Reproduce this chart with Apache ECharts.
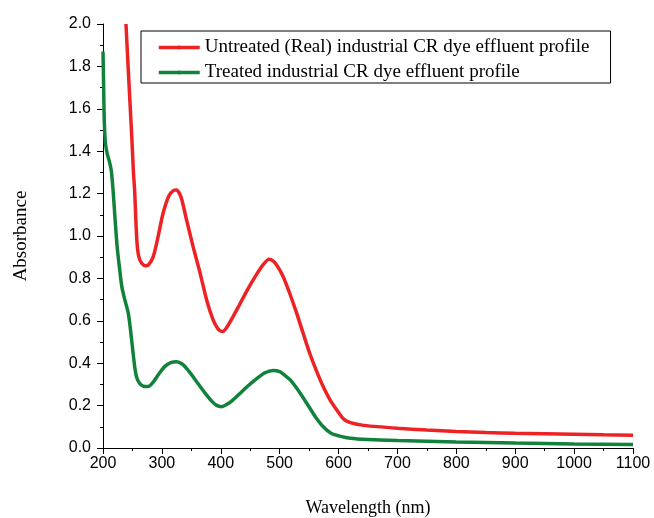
<!DOCTYPE html>
<html>
<head>
<meta charset="utf-8">
<script src="https://cdn.jsdelivr.net/npm/echarts@6/dist/echarts.min.js"></script>
<style>html,body{margin:0;padding:0;background:#fff;}#c{width:654px;height:518px;}</style>
</head>
<body>
<div id="c"></div>
<script>
// Tick labels
var xTicks = [200, 300, 400, 500, 600, 700, 800, 900, 1000, 1100];
var yTicks = [0.0, 0.2, 0.4, 0.6, 0.8, 1.0, 1.2, 1.4, 1.6, 1.8, 2.0];

var seriesNames = [
  'Untreated (Real) industrial CR dye effluent profile',
  'Treated industrial CR dye effluent profile'
];

// Untreated: wavelength (nm), absorbance
var untreatedWl = [239,243,246,249,251.5,254,256,258,261,266,272,277,285,293,302,312,320,325,330,334,342,353,365,376,387,395,402,408,420,432,445,461,472,482,490,498,506,517,529,540,551,563,574,586,597,606,612,620,640,660,700,750,800,850,900,950,1000,1050,1100];
var untreatedAbs = [2.0,1.78,1.62,1.46,1.31,1.20,1.06,0.96,0.90,0.87,0.86,0.863,0.90,0.99,1.107,1.19,1.215,1.217,1.20,1.17,1.075,0.95,0.824,0.698,0.604,0.563,0.549,0.56,0.615,0.677,0.745,0.82,0.865,0.89,0.88,0.85,0.808,0.73,0.635,0.54,0.447,0.36,0.289,0.225,0.179,0.145,0.13,0.12,0.108,0.102,0.093,0.085,0.078,0.073,0.069,0.067,0.065,0.062,0.060];

// Treated: wavelength (nm), absorbance
var treatedWl = [200,201,202,204,207,211,214,217,220,224,228,232,237,243,247,251,254,257,262,268,277,285,295,305,315,325,335,345,355,365,375,385,393,401,410,420,433,445,460,475,489,500,510,518,532,546,560,574,588,602,620,650,700,800,900,1000,1100];
var treatedAbs = [1.87,1.72,1.56,1.44,1.39,1.35,1.31,1.22,1.10,0.95,0.85,0.76,0.70,0.635,0.55,0.45,0.38,0.335,0.305,0.292,0.29,0.31,0.35,0.385,0.403,0.407,0.395,0.365,0.328,0.290,0.253,0.220,0.201,0.195,0.205,0.225,0.258,0.29,0.325,0.355,0.366,0.36,0.34,0.321,0.27,0.211,0.15,0.10,0.068,0.056,0.046,0.04,0.035,0.028,0.023,0.019,0.016];

function pairs(xs, ys) { return xs.map(function (x, i) { return [x, ys[i]]; }); }

var chart = echarts.init(document.getElementById('c'), null, { renderer: 'canvas' });
var sans = 'Liberation Sans, Arial, sans-serif';
var serif = 'Liberation Serif, Times New Roman, serif';
chart.setOption({
  backgroundColor: '#fff',
  animation: false,
  grid: { left: 103, top: 24, width: 530, height: 424, containLabel: false, outerBoundsMode: 'none' },
  legend: {
    orient: 'vertical',
    left: 141, top: 31,
    padding: [7, 21, 1, 16],
    itemGap: 6,
    itemWidth: 41, itemHeight: 5,
    borderColor: '#000', borderWidth: 1,
    lineStyle: { width: 3.5 },
    textStyle: { fontFamily: serif, fontSize: 19, color: '#000' },
    data: seriesNames
  },
  xAxis: {
    type: 'value',
    min: xTicks[0], max: xTicks[xTicks.length - 1], interval: 100,
    name: 'Wavelength (nm)', nameLocation: 'middle', nameGap: 51,
    nameTextStyle: { fontFamily: serif, fontSize: 18, color: '#000' },
    axisLine: { show: true, onZero: false, lineStyle: { color: '#000', width: 1 } },
    axisTick: { show: true, inside: false, length: 6, lineStyle: { color: '#000' } },
    minorTick: { show: true, splitNumber: 2, length: 3, lineStyle: { color: '#000' } },
    splitLine: { show: false },
    axisLabel: { fontFamily: sans, fontSize: 16, color: '#000', margin: 8, showMinLabel: true, showMaxLabel: true,
      formatter: function (v) { return String(v); } }
  },
  yAxis: {
    type: 'value',
    min: yTicks[0], max: yTicks[yTicks.length - 1], interval: 0.2,
    name: 'Absorbance', nameLocation: 'middle', nameGap: 72, nameRotate: 90,
    nameTextStyle: { fontFamily: serif, fontSize: 19, color: '#000' },
    axisLine: { show: true, onZero: false, lineStyle: { color: '#000', width: 1 } },
    axisTick: { show: true, inside: false, length: 6, lineStyle: { color: '#000' } },
    minorTick: { show: true, splitNumber: 2, length: 3, lineStyle: { color: '#000' } },
    splitLine: { show: false },
    axisLabel: { fontFamily: sans, fontSize: 16, color: '#000', margin: 12,
      formatter: function (v) { return v.toFixed(1); } }
  },
  series: [
    {
      name: seriesNames[0], type: 'line', data: pairs(untreatedWl, untreatedAbs),
      smooth: 0.25, showSymbol: false, symbol: 'circle', symbolSize: 3, clip: true,
      lineStyle: { color: '#ED2224', width: 3.5 }, itemStyle: { color: '#ED2224' }
    },
    {
      name: seriesNames[1], type: 'line', data: pairs(treatedWl, treatedAbs),
      smooth: 0.25, showSymbol: false, symbol: 'circle', symbolSize: 3, clip: true,
      lineStyle: { color: '#11823B', width: 3.5 }, itemStyle: { color: '#11823B' }
    }
  ]
});
</script>
</body>
</html>
